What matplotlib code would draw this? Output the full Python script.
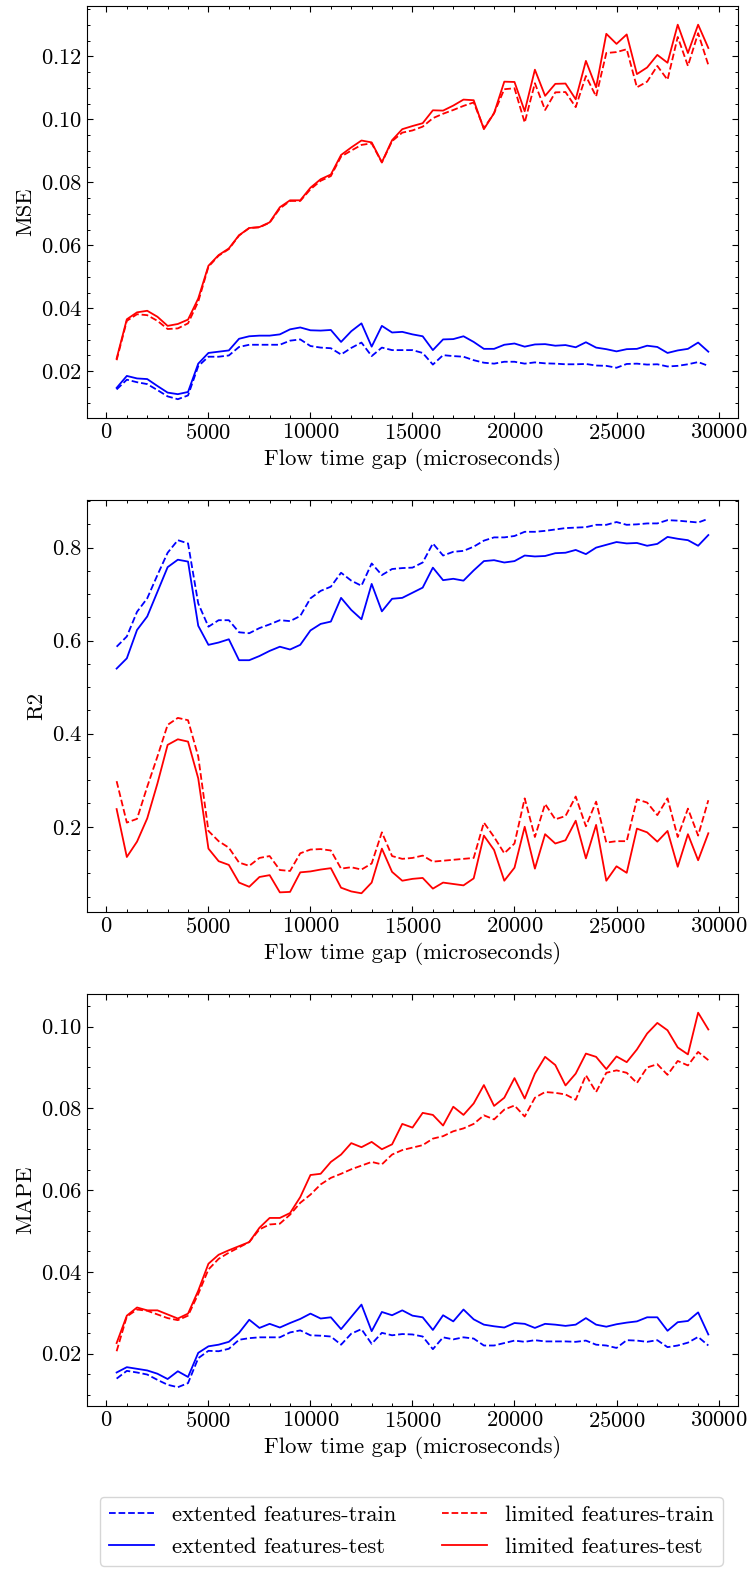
import matplotlib
matplotlib.use("Agg")
import matplotlib.pyplot as plt
from matplotlib.ticker import AutoMinorLocator, MultipleLocator

# 字体与刻度风格（类 LaTeX 衬线体）
plt.rcParams.update({
    'font.family': 'serif',
    'font.serif': ['cmr10'],
    'mathtext.fontset': 'cm',
    'axes.formatter.use_mathtext': True,
    'font.size': 16.3,
    'axes.linewidth': 0.8,
    'xtick.direction': 'in',
    'ytick.direction': 'in',
    'xtick.top': True,
    'ytick.right': True,
    'xtick.major.size': 4,
    'ytick.major.size': 4,
    'xtick.minor.size': 2.4,
    'ytick.minor.size': 2.4,
    'xtick.major.width': 0.8,
    'ytick.major.width': 0.8,
    'xtick.minor.width': 0.7,
    'ytick.minor.width': 0.7,
})

# 流时间间隔（微秒）
gaps = list(range(500, 30000, 500))

# MSE
ext_train_mse = [0.0142, 0.0173, 0.0165, 0.0159, 0.0140, 0.0120, 0.0111, 0.0123, 0.0216, 0.0246,
                 0.0246, 0.0250, 0.0277, 0.0284, 0.0284, 0.0284, 0.0284, 0.0297, 0.0301, 0.0280,
                 0.0275, 0.0273, 0.0253, 0.0274, 0.0291, 0.0248, 0.0275, 0.0267, 0.0267, 0.0267,
                 0.0258, 0.0221, 0.0251, 0.0248, 0.0246, 0.0235, 0.0227, 0.0224, 0.0230, 0.0230,
                 0.0224, 0.0228, 0.0225, 0.0224, 0.0222, 0.0222, 0.0223, 0.0218, 0.0217, 0.0211,
                 0.0223, 0.0224, 0.0221, 0.0222, 0.0215, 0.0217, 0.0222, 0.0229, 0.0217]
ext_test_mse = [0.0147, 0.0185, 0.0177, 0.0175, 0.0153, 0.0132, 0.0127, 0.0134, 0.0224, 0.0258,
                0.0262, 0.0266, 0.0303, 0.0311, 0.0313, 0.0313, 0.0317, 0.0333, 0.0339, 0.0330,
                0.0329, 0.0331, 0.0293, 0.0327, 0.0352, 0.0278, 0.0344, 0.0323, 0.0325, 0.0317,
                0.0311, 0.0267, 0.0301, 0.0302, 0.0311, 0.0293, 0.0271, 0.0271, 0.0284, 0.0288,
                0.0278, 0.0285, 0.0286, 0.0281, 0.0283, 0.0276, 0.0292, 0.0275, 0.0270, 0.0263,
                0.0270, 0.0271, 0.0281, 0.0277, 0.0258, 0.0266, 0.0271, 0.0291, 0.0262]
lim_train_mse = [0.0235, 0.0360, 0.0381, 0.0378, 0.0360, 0.0334, 0.0336, 0.0352, 0.0421, 0.0532,
                 0.0567, 0.0588, 0.0631, 0.0655, 0.0657, 0.0672, 0.0717, 0.0741, 0.0741, 0.0778,
                 0.0805, 0.0820, 0.0882, 0.0901, 0.0919, 0.0924, 0.0863, 0.0931, 0.0958, 0.0965,
                 0.0977, 0.1004, 0.1018, 0.1030, 0.1043, 0.1054, 0.0972, 0.1020, 0.1096, 0.1099,
                 0.0990, 0.1115, 0.1030, 0.1086, 0.1087, 0.1039, 0.1138, 0.1073, 0.1211, 0.1214,
                 0.1223, 0.1102, 0.1120, 0.1170, 0.1126, 0.1262, 0.1170, 0.1274, 0.1173]
lim_test_mse = [0.0240, 0.0365, 0.0387, 0.0392, 0.0373, 0.0344, 0.0350, 0.0364, 0.0431, 0.0535,
                0.0569, 0.0590, 0.0632, 0.0655, 0.0658, 0.0673, 0.0721, 0.0743, 0.0743, 0.0783,
                0.0810, 0.0825, 0.0887, 0.0911, 0.0933, 0.0927, 0.0864, 0.0934, 0.0969, 0.0979,
                0.0988, 0.1029, 0.1028, 0.1044, 0.1063, 0.1061, 0.0969, 0.1020, 0.1120, 0.1119,
                0.1026, 0.1158, 0.1075, 0.1113, 0.1114, 0.1064, 0.1186, 0.1102, 0.1272, 0.1240,
                0.1270, 0.1144, 0.1165, 0.1205, 0.1180, 0.1301, 0.1211, 0.1301, 0.1227]

# R2
ext_train_r2 = [0.587, 0.609, 0.662, 0.691, 0.741, 0.789, 0.816, 0.809, 0.680, 0.630,
                0.644, 0.644, 0.618, 0.616, 0.627, 0.635, 0.644, 0.642, 0.653, 0.691,
                0.707, 0.716, 0.746, 0.729, 0.718, 0.766, 0.741, 0.754, 0.756, 0.757,
                0.768, 0.809, 0.783, 0.791, 0.793, 0.802, 0.815, 0.822, 0.822, 0.825,
                0.834, 0.834, 0.836, 0.839, 0.842, 0.843, 0.844, 0.849, 0.849, 0.855,
                0.849, 0.850, 0.852, 0.852, 0.859, 0.858, 0.856, 0.854, 0.862]
ext_test_r2 = [0.540, 0.562, 0.623, 0.652, 0.705, 0.758, 0.774, 0.770, 0.632, 0.591,
               0.596, 0.603, 0.558, 0.558, 0.567, 0.578, 0.587, 0.581, 0.591, 0.622,
               0.636, 0.641, 0.692, 0.666, 0.646, 0.722, 0.663, 0.690, 0.692, 0.703,
               0.714, 0.757, 0.730, 0.733, 0.729, 0.751, 0.771, 0.773, 0.768, 0.771,
               0.783, 0.781, 0.782, 0.788, 0.789, 0.795, 0.786, 0.800, 0.806, 0.812,
               0.809, 0.810, 0.804, 0.808, 0.823, 0.819, 0.816, 0.804, 0.827]
lim_train_r2 = [0.298, 0.209, 0.217, 0.286, 0.351, 0.419, 0.434, 0.429, 0.351, 0.191,
                0.169, 0.155, 0.123, 0.116, 0.133, 0.137, 0.107, 0.105, 0.143, 0.151,
                0.152, 0.149, 0.110, 0.113, 0.108, 0.121, 0.188, 0.137, 0.131, 0.133,
                0.138, 0.125, 0.127, 0.129, 0.131, 0.133, 0.209, 0.178, 0.143, 0.164,
                0.261, 0.178, 0.249, 0.216, 0.223, 0.265, 0.201, 0.254, 0.166, 0.169,
                0.169, 0.259, 0.252, 0.225, 0.261, 0.178, 0.239, 0.181, 0.257]
lim_test_r2 = [0.238, 0.135, 0.168, 0.218, 0.293, 0.376, 0.388, 0.383, 0.304, 0.153,
               0.126, 0.118, 0.080, 0.071, 0.092, 0.096, 0.059, 0.060, 0.102, 0.104,
               0.108, 0.111, 0.069, 0.061, 0.057, 0.080, 0.153, 0.103, 0.084, 0.088,
               0.090, 0.067, 0.080, 0.077, 0.074, 0.089, 0.181, 0.150, 0.084, 0.112,
               0.200, 0.110, 0.184, 0.164, 0.171, 0.213, 0.132, 0.204, 0.084, 0.115,
               0.101, 0.196, 0.188, 0.168, 0.191, 0.114, 0.184, 0.128, 0.186]

# MAPE
ext_train_mape = [0.0139, 0.0158, 0.0154, 0.0149, 0.0136, 0.0124, 0.0118, 0.0128, 0.0189, 0.0207,
                  0.0206, 0.0212, 0.0234, 0.0238, 0.0240, 0.0240, 0.0240, 0.0252, 0.0257, 0.0245,
                  0.0244, 0.0242, 0.0222, 0.0249, 0.0260, 0.0224, 0.0251, 0.0245, 0.0248, 0.0247,
                  0.0242, 0.0211, 0.0240, 0.0235, 0.0240, 0.0237, 0.0220, 0.0220, 0.0226, 0.0232,
                  0.0229, 0.0233, 0.0230, 0.0230, 0.0230, 0.0229, 0.0232, 0.0222, 0.0220, 0.0214,
                  0.0233, 0.0232, 0.0229, 0.0233, 0.0216, 0.0220, 0.0227, 0.0241, 0.0220]
ext_test_mape = [0.0154, 0.0167, 0.0163, 0.0159, 0.0151, 0.0138, 0.0157, 0.0143, 0.0202, 0.0218,
                 0.0222, 0.0229, 0.0251, 0.0283, 0.0263, 0.0273, 0.0264, 0.0275, 0.0285, 0.0298,
                 0.0286, 0.0289, 0.0260, 0.0290, 0.0320, 0.0255, 0.0302, 0.0294, 0.0306, 0.0293,
                 0.0289, 0.0258, 0.0294, 0.0279, 0.0308, 0.0284, 0.0271, 0.0267, 0.0264, 0.0275,
                 0.0273, 0.0263, 0.0273, 0.0271, 0.0268, 0.0271, 0.0287, 0.0271, 0.0266, 0.0272,
                 0.0276, 0.0279, 0.0289, 0.0289, 0.0256, 0.0277, 0.0280, 0.0301, 0.0247]
lim_train_mape = [0.0206, 0.0291, 0.0308, 0.0305, 0.0296, 0.0287, 0.0282, 0.0293, 0.0346, 0.0406,
                  0.0432, 0.0447, 0.0460, 0.0473, 0.0504, 0.0516, 0.0518, 0.0540, 0.0569, 0.0589,
                  0.0614, 0.0630, 0.0640, 0.0651, 0.0660, 0.0669, 0.0663, 0.0687, 0.0698, 0.0704,
                  0.0710, 0.0726, 0.0732, 0.0744, 0.0751, 0.0762, 0.0783, 0.0773, 0.0797, 0.0807,
                  0.0780, 0.0826, 0.0840, 0.0838, 0.0834, 0.0821, 0.0881, 0.0840, 0.0887, 0.0893,
                  0.0887, 0.0862, 0.0900, 0.0908, 0.0882, 0.0916, 0.0905, 0.0938, 0.0918]
lim_test_mape = [0.0226, 0.0293, 0.0313, 0.0306, 0.0306, 0.0296, 0.0286, 0.0298, 0.0354, 0.0420,
                 0.0442, 0.0453, 0.0463, 0.0473, 0.0508, 0.0532, 0.0532, 0.0544, 0.0583, 0.0637,
                 0.0640, 0.0669, 0.0687, 0.0715, 0.0705, 0.0718, 0.0700, 0.0712, 0.0762, 0.0753,
                 0.0789, 0.0784, 0.0758, 0.0804, 0.0784, 0.0812, 0.0857, 0.0806, 0.0826, 0.0874,
                 0.0824, 0.0885, 0.0926, 0.0906, 0.0856, 0.0885, 0.0934, 0.0926, 0.0896, 0.0927,
                 0.0913, 0.0944, 0.0983, 0.1009, 0.0991, 0.0949, 0.0932, 0.1034, 0.0993]

# (纵轴名, 主刻度间距, 四条曲线)
panels = [
    ('MSE', 0.02, ext_train_mse, ext_test_mse, lim_train_mse, lim_test_mse),
    ('R2', 0.2, ext_train_r2, ext_test_r2, lim_train_r2, lim_test_r2),
    ('MAPE', 0.02, ext_train_mape, ext_test_mape, lim_train_mape, lim_test_mape),
]

fig = plt.figure(figsize=(7.49, 15.70), dpi=100)
left, width, height = 0.1162, 0.869, 0.2624
bottoms = [0.7338, 0.4191, 0.1045]

lw = 1.3
for (name, step, e_tr, e_te, l_tr, l_te), b in zip(panels, bottoms):
    ax = fig.add_axes([left, b, width, height])
    ax.plot(gaps, e_tr, 'b--', lw=lw, label='extented features-train')
    ax.plot(gaps, e_te, 'b-', lw=lw, label='extented features-test')
    ax.plot(gaps, l_tr, 'r--', lw=lw, label='limited features-train')
    ax.plot(gaps, l_te, 'r-', lw=lw, label='limited features-test')
    ax.set_ylabel(name)
    ax.set_xlabel('Flow time gap (microseconds)')
    ax.yaxis.set_major_locator(MultipleLocator(step))
    ax.xaxis.set_minor_locator(AutoMinorLocator())
    ax.yaxis.set_minor_locator(AutoMinorLocator())
    ax.tick_params(which='both', top=True, right=True)

handles, labels = ax.get_legend_handles_labels()
fig.legend(handles, labels, loc='center', bbox_to_anchor=(0.549, 0.0248), ncol=2)

fig.savefig('out.png', dpi=100)
